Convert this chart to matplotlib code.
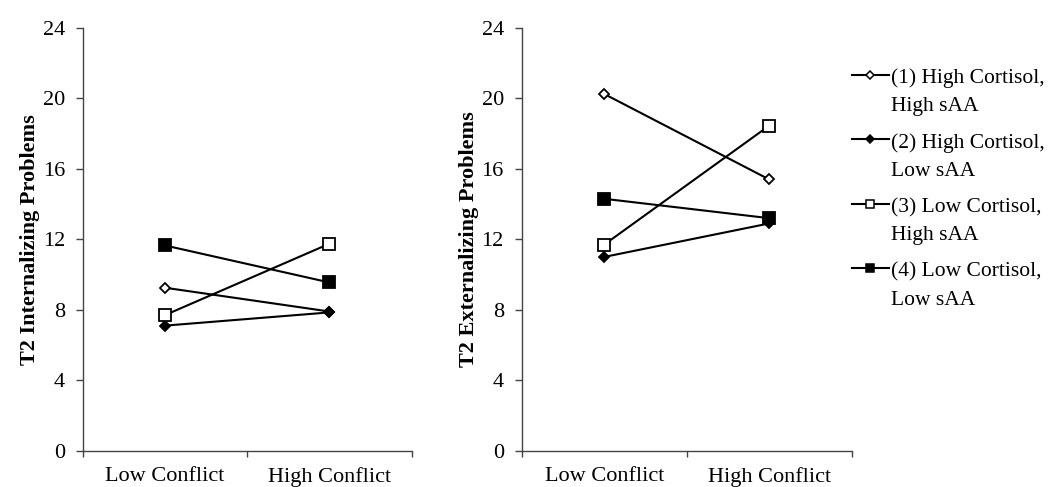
import matplotlib
matplotlib.use("Agg")
import matplotlib.pyplot as plt
from matplotlib.lines import Line2D
from matplotlib.legend_handler import HandlerLine2D

# data
conditions = ["Low Conflict", "High Conflict"]
groups = ["(1) High Cortisol,\nHigh sAA", "(2) High Cortisol,\nLow sAA",
          "(3) Low Cortisol,\nHigh sAA", "(4) Low Cortisol,\nLow sAA"]
internalizing = [[9.25, 7.9], [7.1, 7.85], [7.7, 11.75], [11.65, 9.55]]
externalizing = [[20.25, 15.4], [11.0, 12.9], [11.7, 18.45], [14.3, 13.2]]
yticks = [0, 4, 8, 12, 16, 20, 24]

markers = ["D", "D", "s", "s"]
faces = ["white", "black", "white", "black"]
msizes = [5.5, 5.5, 8, 8]

plt.rcParams["font.family"] = ["Liberation Serif", "DejaVu Serif"]
plt.rcParams["font.size"] = 16


class TopLine(HandlerLine2D):
    # put the legend line beside the first text line, not the middle
    def create_artists(self, legend, orig_handle, xdescent, ydescent,
                       width, height, fontsize, trans):
        arts = super().create_artists(legend, orig_handle, xdescent, ydescent,
                                      width, height, fontsize, trans)
        for a in arts:
            a.set_ydata([y + 12.5 for y in a.get_ydata()])
        return arts


fig = plt.figure(figsize=(10.5, 4.87), dpi=100)
ax1 = fig.add_axes([0.079, 0.0746, 0.313, 0.868])
ax2 = fig.add_axes([0.497, 0.0746, 0.314, 0.868])

xpos = [0.5, 1.5]
for ax, vals, lab in [(ax1, internalizing, "T2 Internalizing Problems"),
                      (ax2, externalizing, "T2 Externalizing Problems")]:
    for v, m, fc, ms in zip(vals, markers, faces, msizes):
        ax.plot(xpos, v, color="black", lw=1.5, marker=m, ms=ms,
                mfc=fc, mec="black", mew=1.3, clip_on=False)
    ax.set_xlim(0, 2)
    ax.set_ylim(0, 24)
    ax.set_yticks(yticks)
    ax.set_xticks([0, 1, 2])
    ax.set_xticklabels([])
    ax.set_xticks(xpos, minor=True)
    ax.set_xticklabels(conditions, minor=True)
    ax.tick_params(axis="x", which="minor", length=0, pad=12)
    ax.tick_params(axis="x", which="major", length=4.5, width=1, color="#444444")
    ax.tick_params(axis="y", length=5, width=1, color="#444444", pad=8)
    for s in ["top", "right"]:
        ax.spines[s].set_visible(False)
    for s in ["left", "bottom"]:
        ax.spines[s].set_color("#444444")
        ax.spines[s].set_linewidth(1)
    ax.set_ylabel(lab, fontweight="bold", labelpad=2)

handles = [Line2D([], [], color="black", lw=1.5, marker=m, ms=ms * 0.75,
                  mfc=fc, mec="black", mew=1.1)
           for m, fc, ms in zip(markers, faces, msizes)]
leg = fig.legend(handles, groups, loc="upper left",
                 bbox_to_anchor=(0.811, 0.859), borderpad=0, borderaxespad=0,
                 frameon=False, handlelength=1.75, handletextpad=0.1,
                 labelspacing=0.8, fontsize=15.5,
                 handler_map={Line2D: TopLine()})
for t in leg.get_texts():
    t.set_linespacing(1.63)

fig.savefig("out.png", dpi=100)
